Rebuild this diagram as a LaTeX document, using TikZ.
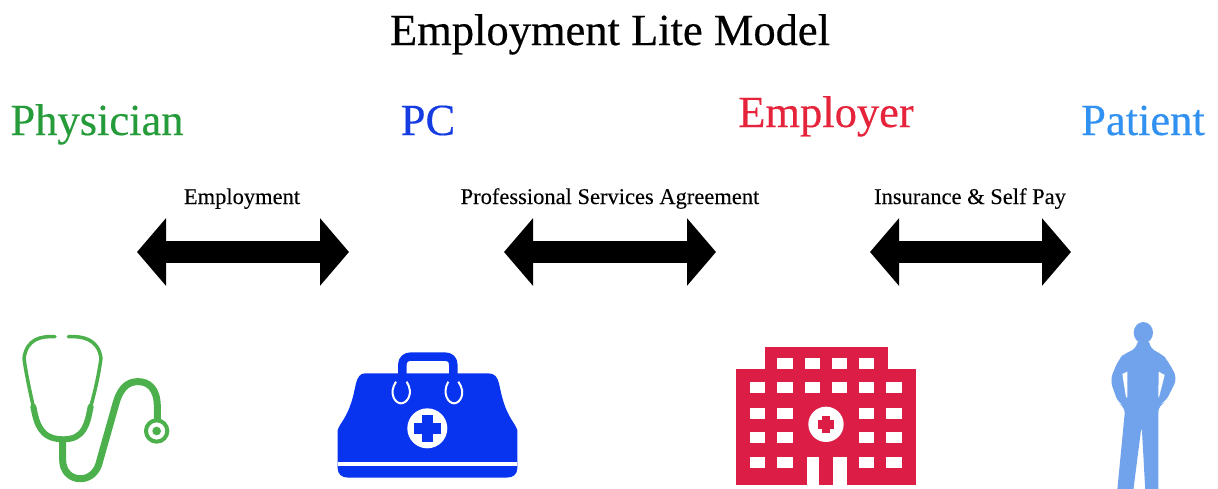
\documentclass[tikz,border=0pt]{standalone}
\usepackage{fontspec}
\setmainfont{Liberation Serif}
\newfontfamily\heavy[FakeBold=0.35]{Liberation Serif}
\newfontfamily\medium[FakeBold=0.2]{Liberation Serif}
\usetikzlibrary{arrows.meta}
\definecolor{cGreen}{RGB}{38,155,58}
\definecolor{cSteth}{RGB}{76,176,76}
\definecolor{cBlue}{RGB}{20,60,225}
\definecolor{cBag}{RGB}{8,52,240}
\definecolor{cRed}{RGB}{229,36,59}
\definecolor{cHosp}{RGB}{220,30,70}
\definecolor{cSky}{RGB}{48,145,240}
\definecolor{cPerson}{RGB}{112,163,236}
\tikzset{
  title/.style={font=\heavy\fontsize{44.5}{44.5}\selectfont,text=black,inner sep=0pt,anchor=base},
  party/.style={font=\heavy\fontsize{44.5}{44.5}\selectfont,inner sep=0pt,anchor=base},
  rel/.style={font=\medium\fontsize{22.5}{22.5}\selectfont,text=black,inner sep=0pt,anchor=base},
  biarrow/.style={line width=21.5pt,{Triangle[length=29pt,width=66pt]}-{Triangle[length=29pt,width=66pt]}},
  tube/.style={draw=cSteth,line cap=round,line join=round},
  win/.style={fill=white,draw=none},
}
\begin{document}
\begin{tikzpicture}[x=1pt,y=-1pt]
\useasboundingbox (0,0) rectangle (1218,488);
\node[title] (t) at (610,45) {Employment Lite Model};
\node[party,text=cGreen] (phys) at (97,135) {Physician};
\node[party,text=cBlue] (pc) at (428,135) {PC};
\node[party,text=cRed] (empl) at (826,127) {Employer};
\node[party,text=cSky] (pat) at (1143,135) {Patient};
\node[rel] (l1) at (242,204) {Employment};
\node[rel] (l2) at (610,204) {Professional Services Agreement};
\node[rel] (l3) at (970,204) {Insurance \& Self Pay};
\coordinate (a1) at (137,252); \coordinate (a2) at (349,252);
\coordinate (b1) at (504,252); \coordinate (b2) at (716,252);
\coordinate (c1) at (870,252); \coordinate (c2) at (1071,252);
\draw[biarrow] (a1) -- (a2);
\draw[biarrow] (b1) -- (b2);
\draw[biarrow] (c1) -- (c2);
% stethoscope
\begin{scope}[shift={(0,320)},x=0.3333pt,y=-0.3333pt]
\draw[tube,line width=3.5pt] (165,50) .. controls (125,48) and (80,55) .. (72,115) .. controls (78,160) and (90,215) .. (100,260);
\draw[tube,line width=3.5pt] (205,50) .. controls (245,48) and (295,55) .. (303,115) .. controls (297,160) and (285,215) .. (272,260);
\draw[tube,line width=6pt] (100,260) .. controls (110,310) and (120,358) .. (190,358) .. controls (255,358) and (262,310) .. (272,260);
\draw[tube,line width=7pt] (188,360) -- (188,420) .. controls (188,490) and (285,500) .. (300,420) -- (348,250) .. controls (365,190) and (395,185) .. (415,185) .. controls (445,185) and (472,205) .. (472,260) -- (472,300);
\draw[draw=cSteth,line width=4pt,fill=white] (470,333) circle[radius=32];
\fill[cSteth] (470,333) circle[radius=13];
\end{scope}
% bag
\begin{scope}[shift={(320,340)},x=0.3333pt,y=-0.3333pt]
\draw[cBag,line width=8.5pt,line join=round] (247,105) -- (247,75) .. controls (247,58) and (258,50) .. (272,50) -- (375,50) .. controls (390,50) and (400,58) .. (400,75) -- (400,105);
\fill[cBag] (135,100) -- (505,100) .. controls (525,100) and (532,112) .. (537,130) .. controls (545,165) and (550,205) .. (585,255) -- (592,270) -- (592,385) .. controls (592,402) and (580,413) .. (560,413) -- (85,413) .. controls (65,413) and (53,402) .. (53,385) -- (53,270) -- (60,255) .. controls (95,205) and (100,165) .. (108,130) .. controls (113,112) and (120,100) .. (135,100) -- cycle;
\draw[white,line width=2pt] (228,125) .. controls (205,160) and (225,190) .. (243,190) .. controls (262,190) and (282,160) .. (260,125);
\draw[white,line width=2pt] (385,125) .. controls (365,160) and (385,190) .. (402,190) .. controls (420,190) and (440,160) .. (415,125);
\fill[white] (322,265) circle[radius=60];
\fill[cBag] (306,225) rectangle (338,305);
\fill[cBag] (282,249) rectangle (362,281);
\fill[white] (53,367) rectangle (592,378);
\end{scope}
% hospital
\begin{scope}[shift={(720,335)},x=0.3333pt,y=-0.3333pt]
\fill[cHosp] (135,35) rectangle (503,103);
\fill[cHosp] (48,103) rectangle (588,450);
\foreach \x in {195,277,358,440} \fill[win] (\x-23,68) rectangle (\x+23,102);
\foreach \x in {113,195,277,358,440,522} \fill[win] (\x-23,141) rectangle (\x+23,175);
\foreach \y in {235,308,382} \foreach \x in {113,195,440,522} \fill[win] (\x-23,\y-17) rectangle (\x+23,\y+17);
\fill[white] (318,268) circle[radius=53];
\fill[cHosp] (305,243) rectangle (331,293);
\fill[cHosp] (293,255) rectangle (343,281);
\fill[white] (260,365) rectangle (298,450);
\fill[white] (340,365) rectangle (380,450);
\end{scope}
% person
\begin{scope}[shift={(1090,310)},x=0.3333pt,y=-0.3333pt]
\fill[cPerson] (160,68) ellipse[x radius=29,y radius=32];
\fill[cPerson,rounded corners=7pt] (143,85) -- (177,85) -- (180,118) -- (215,130) -- (235,155) -- (262,205) -- (225,278) -- (205,285) -- (205,580) -- (168,580) -- (155,345) -- (125,580) -- (78,580) -- (106,290) -- (85,280) -- (60,210) -- (85,150) -- (105,128) -- (140,118) -- cycle;
\fill[white] (97,192) -- (112,185) -- (112,262) -- (108,262) -- cycle;
\fill[white] (206,185) -- (224,195) -- (207,262) -- (205,262) -- cycle;
\end{scope}
\end{tikzpicture}
\end{document}
